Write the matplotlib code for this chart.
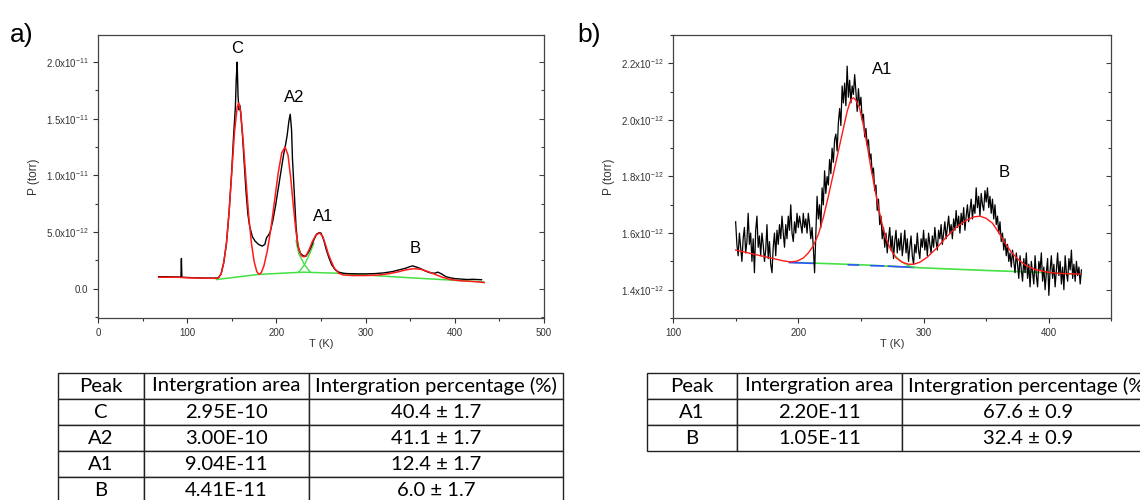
import numpy as np
import matplotlib
matplotlib.use("Agg")
import matplotlib.pyplot as plt
from matplotlib.ticker import MultipleLocator, FuncFormatter

plt.rcParams['font.family'] = ['Liberation Sans', 'DejaVu Sans']
plt.rcParams['mathtext.fontset'] = 'custom'
plt.rcParams['mathtext.rm'] = 'Liberation Sans'
plt.rcParams['mathtext.default'] = 'regular'

# ---------- panel a data (P in units of 1e-12 torr) ----------
a_data_T = [68, 75, 85, 92, 93, 93.5, 94, 100, 110, 120, 130, 135, 138, 141, 144, 147, 150, 152,
            154, 155, 156, 157, 158, 159, 160, 162, 164, 166, 168, 170, 173, 176, 180, 184, 187,
            189, 191, 193, 196, 199, 202, 205, 208, 210, 212, 214, 215.5, 217, 218, 220, 222,
            224, 227, 230, 233, 236, 239, 242, 245, 248, 250, 253, 256, 259, 262, 266, 270, 275,
            280, 290, 300, 310, 320, 330, 340, 345, 350, 353, 357, 362, 367, 372, 377, 381, 385,
            390, 395, 400, 405, 410, 415, 420, 425, 430]
a_data_P = [1.05, 1.05, 1.03, 1.02, 1.02, 2.66, 1.0, 0.98, 0.95, 0.93, 0.92, 0.95, 1.3, 2.3, 4.0,
            6.8, 10.5, 13.5, 16.0, 18.5, 20.0, 17.0, 15.8, 16.2, 15.5, 13.5, 11.0, 8.5, 6.6, 5.5,
            4.6, 4.2, 3.9, 3.75, 3.9, 4.5, 4.7, 5.0, 6.0, 7.3, 8.8, 10.3, 11.8, 12.6, 13.5, 14.8,
            15.4, 14.0, 11.5, 8.5, 5.5, 3.8, 3.1, 2.9, 2.85, 3.2, 3.7, 4.3, 4.8, 4.95, 4.9, 4.3,
            3.4, 2.7, 2.1, 1.65, 1.45, 1.35, 1.32, 1.3, 1.3, 1.32, 1.38, 1.5, 1.7, 1.8, 1.95, 2.0,
            1.9, 1.75, 1.55, 1.4, 1.35, 1.45, 1.3, 1.05, 0.95, 0.88, 0.85, 0.82, 0.8, 0.82, 0.8,
            0.78]

a_fit_T = [68, 90, 100, 120, 132, 135, 138, 141, 144, 147, 150, 153, 156, 157.7, 160, 163, 166,
           169, 172, 175, 178, 180.5, 183, 186, 190, 194, 198, 202, 206, 209.7, 213, 216, 219,
           222, 225, 228, 231, 234, 237, 240, 244, 248.4, 252, 255, 258, 261, 265, 270, 275,
           285, 300, 315, 325, 335, 345, 354, 362, 370, 378, 386, 395, 405, 415, 425, 433]
a_fit_P = [1.0, 1.0, 0.95, 0.92, 0.9, 0.95, 1.3, 2.3, 4.0, 6.8, 10.3, 13.8, 16.0, 16.4, 15.6,
           12.8, 9.5, 6.4, 4.0, 2.4, 1.5, 1.26, 1.4, 2.0, 3.4, 5.4, 7.8, 10.2, 12.0, 12.5, 11.8,
           9.8, 7.3, 5.0, 3.5, 2.9, 2.8, 3.0, 3.5, 4.1, 4.7, 4.92, 4.6, 3.9, 3.1, 2.5, 1.8, 1.35,
           1.2, 1.15, 1.15, 1.2, 1.3, 1.45, 1.65, 1.76, 1.7, 1.5, 1.25, 1.0, 0.8, 0.7, 0.65, 0.6,
           0.53]

a_base_T = [133, 180, 230, 270, 346, 432]
a_base_P = [0.8, 1.25, 1.45, 1.35, 0.97, 0.59]
a_tailA2_T = [222, 225, 231.5, 238]
a_tailA2_P = [4.2, 3.1, 2.1, 1.45]
a_tailA1_T = [225, 231.5, 238, 242]
a_tailA1_P = [1.45, 2.1, 3.2, 4.0]

a_labels = ['C', 'A2', 'A1', 'B']
a_label_T = [156.5, 220.4, 252.4, 355.4]
a_label_P = [21.2, 16.9, 6.4, 3.5]

# ---------- panel b data (P in units of 1e-12 torr), one reading per K from 150 K ----------
b_data_T = list(range(150, 427))
b_data_P = [
    1.64, 1.56, 1.52, 1.60, 1.55, 1.50, 1.58, 1.62, 1.53, 1.57,
    1.67, 1.56, 1.60, 1.50, 1.58, 1.46, 1.61, 1.66, 1.55, 1.59,
    1.52, 1.60, 1.56, 1.50, 1.54, 1.63, 1.51, 1.57, 1.49, 1.46,
    1.55, 1.60, 1.52, 1.61, 1.56, 1.63, 1.58, 1.66, 1.60, 1.55,
    1.63, 1.58, 1.66, 1.61, 1.70, 1.60, 1.57, 1.64, 1.60, 1.67,
    1.62, 1.66, 1.63, 1.60, 1.67, 1.62, 1.65, 1.60, 1.67, 1.63,
    1.58, 1.62, 1.55, 1.46, 1.60, 1.73, 1.65, 1.70, 1.62, 1.76,
    1.70, 1.82, 1.74, 1.80, 1.77, 1.86, 1.81, 1.90, 1.85, 1.93,
    1.95, 1.89, 1.99, 2.04, 1.98, 2.12, 2.06, 2.13, 2.05, 2.19,
    2.08, 2.14, 2.06, 2.12, 2.09, 2.16, 2.10, 2.03, 2.11, 2.05,
    2.08, 2.00, 2.02, 1.94, 1.97, 1.91, 1.93, 1.86, 1.88, 1.81,
    1.83, 1.75, 1.77, 1.68, 1.72, 1.63, 1.66, 1.58, 1.62, 1.55,
    1.60, 1.53, 1.58, 1.62, 1.54, 1.59, 1.51, 1.57, 1.61, 1.53,
    1.58, 1.54, 1.60, 1.52, 1.56, 1.61, 1.53, 1.58, 1.50, 1.55,
    1.59, 1.52, 1.49, 1.56, 1.53, 1.60, 1.54, 1.51, 1.58, 1.55,
    1.61, 1.54, 1.58, 1.52, 1.60, 1.56, 1.53, 1.59, 1.55, 1.62,
    1.57, 1.54, 1.61, 1.58, 1.63, 1.56, 1.60, 1.64, 1.58, 1.62,
    1.66, 1.60, 1.63, 1.58, 1.65, 1.61, 1.68, 1.62, 1.66, 1.60,
    1.67, 1.63, 1.69, 1.61, 1.66, 1.70, 1.64, 1.68, 1.72, 1.65,
    1.70, 1.67, 1.76, 1.69, 1.73, 1.66, 1.74, 1.70, 1.68, 1.75,
    1.71, 1.76, 1.69, 1.73, 1.67, 1.72, 1.65, 1.70, 1.63, 1.66,
    1.60, 1.64, 1.57, 1.60, 1.54, 1.58, 1.52, 1.56, 1.50, 1.53,
    1.48, 1.54, 1.50, 1.46, 1.53, 1.49, 1.44, 1.52, 1.47, 1.43,
    1.51, 1.46, 1.53, 1.44, 1.49, 1.41, 1.50, 1.46, 1.42, 1.52,
    1.45, 1.41, 1.50, 1.47, 1.53, 1.43, 1.48, 1.40, 1.46, 1.51,
    1.38, 1.47, 1.52, 1.44, 1.49, 1.41, 1.47, 1.53, 1.45, 1.50,
    1.42, 1.48, 1.40, 1.52, 1.46, 1.43, 1.51, 1.47, 1.54, 1.44,
    1.49, 1.43, 1.50, 1.45, 1.48, 1.42, 1.47]

b_fit_T = [150, 160, 170, 180, 188, 194, 199, 204, 208, 212, 216, 220, 224, 228, 232, 236, 239,
           242, 244, 246, 249, 252, 255, 258, 261, 264, 267, 270, 274, 278, 283, 288, 292, 297,
           303, 310, 318, 326, 334, 340, 345, 350, 355, 360, 365, 370, 376, 382, 390, 400, 410,
           425]
b_fit_P = [1.540, 1.530, 1.520, 1.510, 1.502, 1.498, 1.501, 1.512, 1.530, 1.555, 1.595, 1.655,
           1.73, 1.81, 1.89, 1.97, 2.03, 2.072, 2.078, 2.07, 2.04, 1.98, 1.91, 1.83, 1.76, 1.69,
           1.63, 1.58, 1.54, 1.513, 1.497, 1.490, 1.490, 1.497, 1.515, 1.545, 1.585, 1.620,
           1.645, 1.657, 1.660, 1.652, 1.635, 1.602, 1.565, 1.533, 1.505, 1.485, 1.470, 1.461,
           1.457, 1.455]

b_base_T = [193, 250, 300, 350, 400, 425]
b_base_P = [1.497, 1.488, 1.477, 1.468, 1.460, 1.455]
b_tail_T = [276, 282, 287, 292]
b_tail_P = [1.525, 1.500, 1.487, 1.479]
b_blue_T = [[193, 212], [240, 248], [258, 268], [272, 292]]
b_blue_P = [[1.496, 1.493], [1.488, 1.487], [1.485, 1.484], [1.483, 1.479]]

b_labels = ['A1', 'B']
b_label_T = [266.9, 364.1]
b_label_P = [2.178, 1.815]

# ---------- tables ----------
table_cols = ['Peak', 'Intergration area', 'Intergration percentage (%)']
a_peaks = ['C', 'A2', 'A1', 'B']
a_areas = ['2.95E-10', '3.00E-10', '9.04E-11', '4.41E-11']
a_percent = ['40.4 ± 1.7', '41.1 ± 1.7', '12.4 ± 1.7', '6.0 ± 1.7']
b_peaks = ['A1', 'B']
b_areas = ['2.20E-11', '1.05E-11']
b_percent = ['67.6 ± 0.9', '32.4 ± 0.9']

RED = '#ff1a1a'
GREEN = '#44e044'
BLUE = '#3355ff'
TICK_COLOR = '#333333'


def sci_fmt(v, pos):
    v = v * 1e-12
    if abs(v) < 1e-20:
        return '0.0'
    exp = int(np.floor(np.log10(abs(v)) + 1e-9))
    mant = v / 10 ** exp
    return f'{mant:.1f}x10$^{{{exp}}}$'


def style_axes(ax, xmaj, xmin, ymaj, ymin):
    ax.xaxis.set_major_locator(MultipleLocator(xmaj))
    ax.xaxis.set_minor_locator(MultipleLocator(xmin))
    ax.yaxis.set_major_locator(MultipleLocator(ymaj))
    ax.yaxis.set_minor_locator(MultipleLocator(ymin))
    ax.yaxis.set_major_formatter(FuncFormatter(sci_fmt))
    ax.tick_params(which='both', direction='out', labelsize=7, colors=TICK_COLOR,
                   width=0.8, top=False, right=False)
    ax.tick_params(which='major', length=3.5)
    ax.tick_params(which='minor', length=2)
    for s in ax.spines.values():
        s.set_color('#444444')
        s.set_linewidth(0.9)
    ax.set_xlabel('T (K)', fontsize=8, color=TICK_COLOR, labelpad=1)
    ax.set_ylabel('P (torr)', fontsize=8.5, color=TICK_COLOR, labelpad=4)
    # inward ticks on the right side
    ax2 = ax.twinx()
    ax2.set_ylim(ax.get_ylim())
    ax2.yaxis.set_major_locator(MultipleLocator(ymaj))
    ax2.yaxis.set_minor_locator(MultipleLocator(ymin))
    ax2.tick_params(which='both', direction='in', labelright=False, colors='#444444', width=0.8)
    ax2.tick_params(which='major', length=3.5)
    ax2.tick_params(which='minor', length=2)
    for s in ax2.spines.values():
        s.set_visible(False)


fig = plt.figure(figsize=(11.4, 5), dpi=100)

# ---------- panel a ----------
ax_a = fig.add_axes([98 / 1140, 1 - 318 / 500, 446 / 1140, 283 / 500])
ax_a.set_xlim(0, 500)
ax_a.set_ylim(-2.6, 22.4)
ax_a.plot(a_base_T, a_base_P, color=GREEN, lw=1.1)
ax_a.plot(a_tailA2_T, a_tailA2_P, color=GREEN, lw=1.0)
ax_a.plot(a_tailA1_T, a_tailA1_P, color=GREEN, lw=1.0)
ax_a.plot(a_data_T, a_data_P, color='black', lw=1.0)
ax_a.plot(a_fit_T, a_fit_P, color=RED, lw=1.1)
for lab, t, p in zip(a_labels, a_label_T, a_label_P):
    ax_a.text(t, p, lab, fontsize=12, ha='center', va='center')
style_axes(ax_a, 100, 50, 5, 2.5)

# ---------- panel b ----------
ax_b = fig.add_axes([673 / 1140, 1 - 318 / 500, 438.5 / 1140, 283 / 500])
ax_b.set_xlim(100, 450)
ax_b.set_ylim(1.3, 2.3)
ax_b.plot(b_base_T, b_base_P, color=GREEN, lw=1.2)
for bt, bp in zip(b_blue_T, b_blue_P):
    ax_b.plot(bt, bp, color=BLUE, lw=1.2)
ax_b.plot(b_tail_T, b_tail_P, color=GREEN, lw=1.0)
ax_b.plot(b_data_T, b_data_P, color='black', lw=0.9)
ax_b.plot(b_fit_T, b_fit_P, color=RED, lw=1.0)
for lab, t, p in zip(b_labels, b_label_T, b_label_P):
    ax_b.text(t, p, lab, fontsize=12, ha='center', va='center')
style_axes(ax_b, 100, 50, 0.2, 0.1)

# panel letters
fig.text(10 / 1140, 1 - 35 / 500, 'a)', fontsize=19, va='center', ha='left')
fig.text(577 / 1140, 1 - 35 / 500, 'b)', fontsize=19, va='center', ha='left')


# ---------- tables ----------
def draw_table(rect, peaks, areas, percent, widths):
    tax = fig.add_axes(rect)
    tax.axis('off')
    rows = [[p, a, c] for p, a, c in zip(peaks, areas, percent)]
    tbl = tax.table(cellText=rows, colLabels=table_cols, cellLoc='center',
                    colWidths=widths, bbox=[0, 0, 1, 1])
    tbl.auto_set_font_size(False)
    for cell in tbl.get_celld().values():
        cell.set_linewidth(1.0)
        cell.set_edgecolor('#222222')
        cell.get_text().set_fontfamily('Lato')
        cell.get_text().set_fontsize(14.6)
    return tbl


draw_table([58 / 1140, 1 - 503 / 500, 505 / 1140, 130 / 500],
           a_peaks, a_areas, a_percent, [86, 165, 254])
draw_table([647 / 1140, 1 - 451 / 500, 508 / 1140, 78 / 500],
           b_peaks, b_areas, b_percent, [90, 165, 253])

fig.savefig('out.png', dpi=100)
